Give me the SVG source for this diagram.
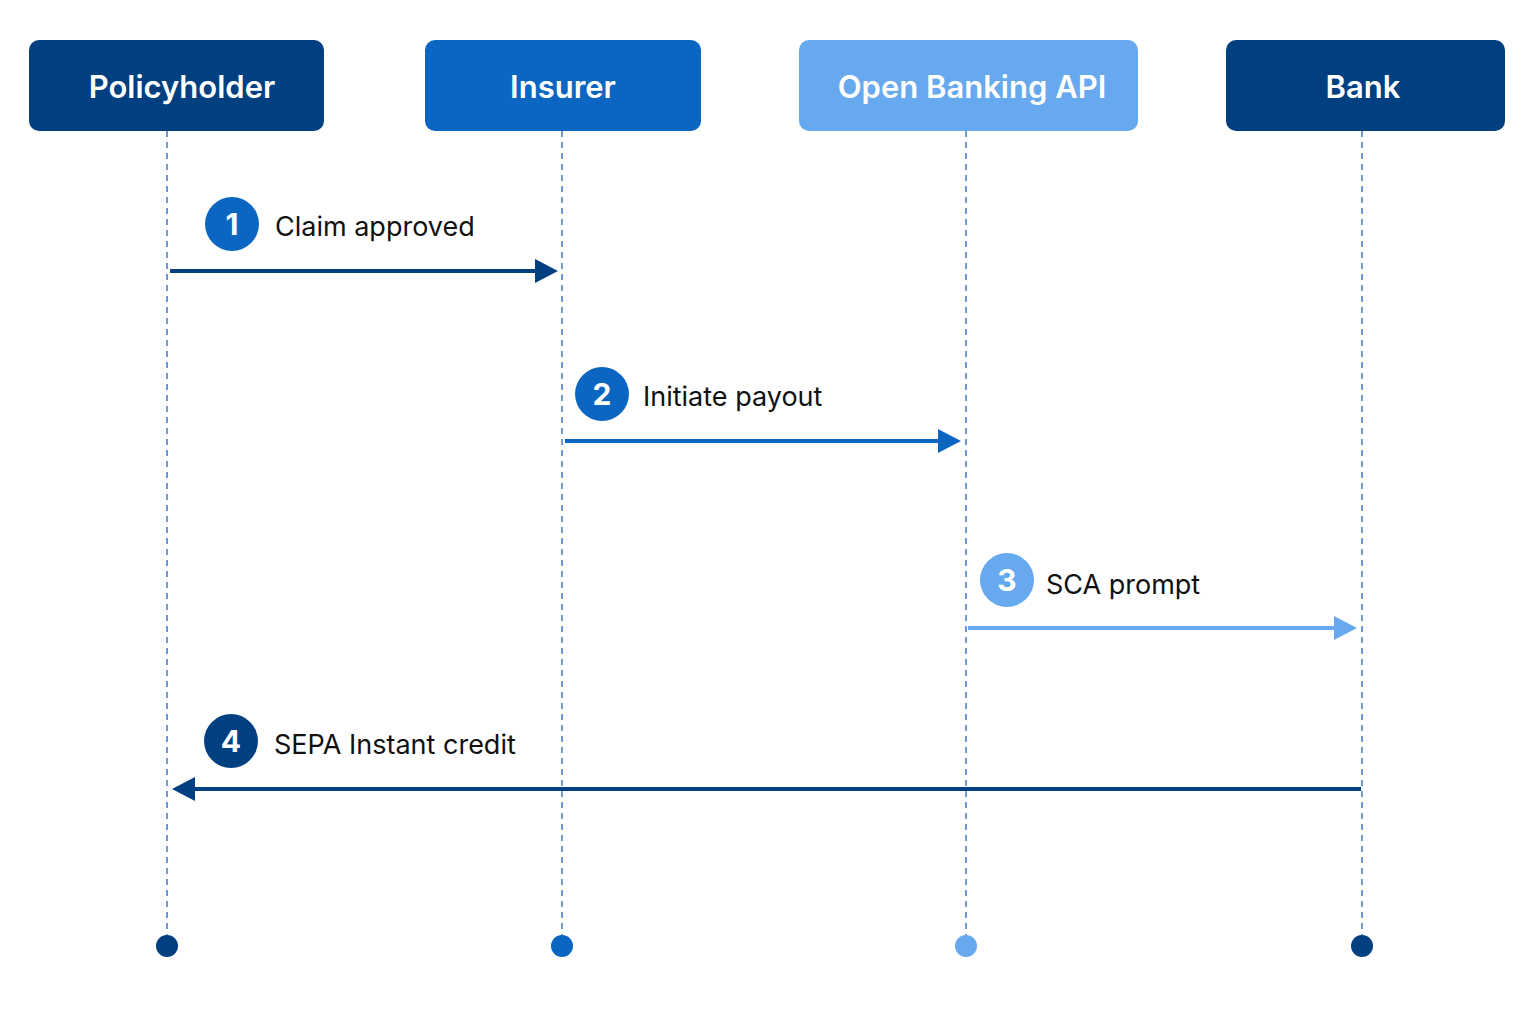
<svg xmlns="http://www.w3.org/2000/svg" width="1536" height="1024" viewBox="0 0 1536 1024">
<style>
.hd{font-family:"Inter","Liberation Sans",sans-serif;font-size:31px;font-weight:600;fill:#fff;text-anchor:middle}
.lb{font-family:"Inter","Liberation Sans",sans-serif;font-size:27px;fill:#111}
.num{font-family:"Inter","Liberation Sans",sans-serif;font-size:30px;font-weight:700;fill:#fff;text-anchor:middle}
.life{stroke:#6f9bd3;stroke-width:2;stroke-dasharray:6 5}
</style>
<rect width="1536" height="1024" fill="#fff"/>
<g id="policyholder"><rect x="29" y="40" width="295" height="91" rx="10" fill="#003f80"/><text class="hd" x="182" y="98">Policyholder</text><line class="life" x1="167" y1="131" x2="167" y2="935"/><circle cx="167" cy="946" r="11" fill="#003f80"/></g>
<g id="insurer"><rect x="425" y="40" width="276" height="91" rx="10" fill="#0b66c2"/><text class="hd" x="563" y="98">Insurer</text><line class="life" x1="562" y1="131" x2="562" y2="935"/><circle cx="562" cy="946" r="11" fill="#0b66c2"/></g>
<g id="api"><rect x="799" y="40" width="339" height="91" rx="10" fill="#66a9ee"/><text class="hd" x="972" y="98">Open Banking API</text><line class="life" x1="966" y1="131" x2="966" y2="935"/><circle cx="966" cy="946" r="11" fill="#66a9ee"/></g>
<g id="bank"><rect x="1226" y="40" width="279" height="91" rx="10" fill="#003f80"/><text class="hd" x="1363" y="98">Bank</text><line class="life" x1="1362" y1="131" x2="1362" y2="935"/><circle cx="1362" cy="946" r="11" fill="#003f80"/></g>
<g id="connectors">
<line x1="170" y1="271" x2="542" y2="271" stroke="#003f80" stroke-width="4"/><path d="M535,259 L558,271 L535,283z" fill="#003f80"/>
<line x1="565" y1="441" x2="945" y2="441" stroke="#0b66c2" stroke-width="4"/><path d="M938,429 L961,441 L938,453z" fill="#0b66c2"/>
<line x1="968" y1="628" x2="1341" y2="628" stroke="#66a9ee" stroke-width="4"/><path d="M1334,616 L1357,628 L1334,640z" fill="#66a9ee"/>
<line x1="1361" y1="789" x2="188" y2="789" stroke="#003f80" stroke-width="4"/><path d="M195,777 L172,789 L195,801z" fill="#003f80"/>
</g>
<g id="step1"><circle cx="232" cy="224" r="27" fill="#0b66c2"/><text class="num" x="232" y="235">1</text><text class="lb" x="275" y="236">Claim approved</text></g>
<g id="step2"><circle cx="602" cy="394" r="27" fill="#0b66c2"/><text class="num" x="602" y="405">2</text><text class="lb" x="643" y="406">Initiate payout</text></g>
<g id="step3"><circle cx="1007" cy="580" r="27" fill="#66a9ee"/><text class="num" x="1007" y="591">3</text><text class="lb" x="1046" y="594">SCA prompt</text></g>
<g id="step4"><circle cx="231" cy="741" r="27" fill="#003f80"/><text class="num" x="231" y="752">4</text><text class="lb" x="274" y="754">SEPA Instant credit</text></g>
</svg>
